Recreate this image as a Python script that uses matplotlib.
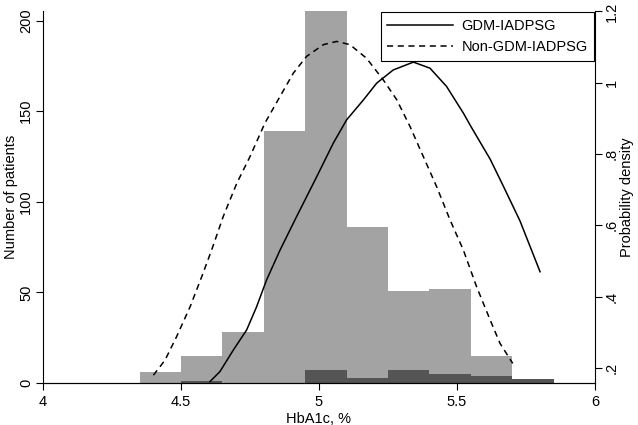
import matplotlib.pyplot as plt
from matplotlib.ticker import FixedLocator

plt.rcParams['font.family'] = ['Liberation Sans', 'DejaVu Sans']

# histogram bins (HbA1c, %)
BIN_EDGES = [4.35, 4.5, 4.65, 4.8, 4.95, 5.1, 5.25, 5.4, 5.55, 5.7, 5.85]
ALL_COUNTS = [6, 15, 28, 139, 210, 86, 51, 52, 15, 0]
GDM_COUNTS = [0, 1, 0, 0, 7, 3, 7, 5, 4, 2]

# kernel density curves
GDM_X = [4.605, 4.641, 4.690, 4.738, 4.774, 4.810, 4.859, 4.919, 4.992, 5.052,
         5.100, 5.161, 5.209, 5.269, 5.342, 5.402, 5.462, 5.523, 5.553, 5.620,
         5.668, 5.728, 5.801]
GDM_D = [0.162, 0.190, 0.251, 0.307, 0.372, 0.447, 0.531, 0.625, 0.737, 0.831,
         0.896, 0.952, 0.999, 1.036, 1.058, 1.041, 0.990, 0.915, 0.874, 0.786,
         0.710, 0.613, 0.470]
NON_X = [4.400, 4.442, 4.484, 4.533, 4.575, 4.611, 4.653, 4.702, 4.750, 4.804,
         4.859, 4.907, 4.955, 5.016, 5.064, 5.112, 5.172, 5.233, 5.282, 5.330,
         5.378, 5.426, 5.475, 5.523, 5.571, 5.620, 5.656, 5.702]
NON_D = [0.180, 0.222, 0.288, 0.372, 0.456, 0.531, 0.625, 0.718, 0.793, 0.887,
         0.962, 1.027, 1.074, 1.107, 1.116, 1.107, 1.069, 1.008, 0.952, 0.877,
         0.793, 0.709, 0.615, 0.531, 0.428, 0.335, 0.269, 0.213]

X_TICKS = [4, 4.5, 5, 5.5, 6]
Y_TICKS = [0, 50, 100, 150, 200]
D_TICKS = [0.2, 0.4, 0.6, 0.8, 1.0, 1.2]
D_LABELS = ['.2', '.4', '.6', '.8', '1', '1.2']


def main():
    fig = plt.figure(figsize=(6.38, 4.25), dpi=100)
    ax = fig.add_axes([0.0674, 0.0988, 0.8652, 0.8742])

    widths = [BIN_EDGES[i + 1] - BIN_EDGES[i] for i in range(len(ALL_COUNTS))]
    ax.bar(BIN_EDGES[:-1], ALL_COUNTS, width=widths, align='edge',
           color='#a3a3a3', linewidth=0)
    ax.bar(BIN_EDGES[:-1], GDM_COUNTS, width=widths, align='edge',
           color='#555555', linewidth=0)

    ax.set_xlim(4, 6)
    ax.set_ylim(0, 205)
    ax.set_xticks(X_TICKS)
    ax.set_xticklabels(['4', '4.5', '5', '5.5', '6'])
    ax.set_yticks(Y_TICKS)
    ax.tick_params(axis='y', labelrotation=90, pad=2)
    for lab in ax.get_yticklabels():
        lab.set_va('center')
    ax.set_xlabel('HbA1c, %', fontsize=10.5, labelpad=2)
    ax.set_ylabel('Number of patients', fontsize=10.5, labelpad=1)
    ax.spines['top'].set_visible(False)
    ax.spines['right'].set_visible(False)

    ax2 = ax.twinx()
    ax2.plot(GDM_X, GDM_D, color='black', linewidth=1.1, label='GDM-IADPSG')
    ax2.plot(NON_X, NON_D, color='black', linewidth=1.1, linestyle=(0, (4, 3)),
             label='Non-GDM-IADPSG')
    ax2.set_ylim(0.158, 1.2)
    ax2.yaxis.set_major_locator(FixedLocator(D_TICKS))
    ax2.set_yticklabels(D_LABELS)
    ax2.tick_params(axis='y', labelrotation=90, pad=2)
    for lab in ax2.get_yticklabels():
        lab.set_va('center')
    ax2.set_ylabel('Probability density', fontsize=10.5, labelpad=1)
    ax2.spines['top'].set_visible(False)
    ax2.spines['left'].set_visible(False)

    for a in (ax, ax2):
        a.tick_params(labelsize=10.5, length=5, width=0.8)
    for s in ('left', 'bottom'):
        ax.spines[s].set_linewidth(0.8)
    ax2.spines['right'].set_linewidth(0.8)

    leg = ax2.legend(loc='upper right', bbox_to_anchor=(1.0, 1.0), fontsize=10.5,
                     fancybox=False, edgecolor='black', framealpha=1,
                     handlelength=4.5, handletextpad=0.6, borderaxespad=0.05,
                     borderpad=0.45)
    leg.get_frame().set_linewidth(0.8)

    fig.savefig('out.png', dpi=100)


if __name__ == "__main__":
    main()
